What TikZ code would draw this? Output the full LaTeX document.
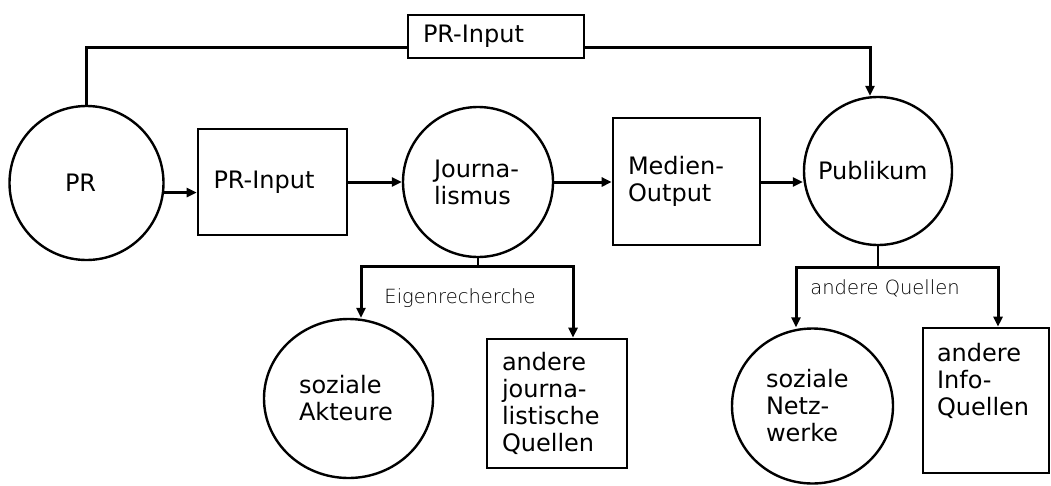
\documentclass[tikz,border=0pt]{standalone}
\usepackage{fontspec}
\setmainfont{DejaVu Sans}
\IfFontExistsTF{DejaVu Sans ExtraLight}
  {\newfontfamily\thinfont{DejaVu Sans ExtraLight}}
  {\newfontfamily\thinfont{DejaVu Sans}[Color=404040]}
\usetikzlibrary{arrows.meta,shapes.geometric}

\begin{document}
\begin{tikzpicture}[x=1pt,y=-1pt]
	\tikzstyle{actor}=[circle,draw=black,line width=2.4pt,align=left,inner sep=0pt,font=\fontsize{24pt}{27pt}\selectfont]
	\tikzstyle{medium}=[rectangle,draw=black,line width=2.6pt,align=left,inner sep=0pt,font=\fontsize{24pt}{27pt}\selectfont]
	\tikzstyle{source}=[font=\thinfont\fontsize{19.5pt}{23pt}\selectfont]
	\tikzstyle{flow}=[draw,line width=3pt,-{Triangle[length=10pt,width=9pt]}]
	\tikzstyle{fork}=[draw,line width=3pt,{Triangle[length=10pt,width=9pt]}-{Triangle[length=10pt,width=9pt]}]
	\tikzstyle{stem}=[draw,line width=2.2pt]
	\useasboundingbox (0,0) rectangle (1051,485);

	% main row
	\node [actor,minimum size=154pt,text width=43pt] (pr) at (86.5,183) {PR};
	\node [medium,minimum width=149pt,minimum height=106pt,text width=118pt] (prin) at (272.5,182) {PR-Input};
	\node [actor,minimum size=150pt,text width=88pt] (journ) at (478,182) {Journa-\\lismus\\[-6pt]};
	\node [medium,minimum width=147pt,minimum height=127pt,text width=117pt] (medien) at (686.5,181.5) {Medien-\\Output};
	\node [actor,minimum size=148pt,text width=120pt] (publ) at (878,171) {Publikum};

	% direct channel on top
	\node [medium,minimum width=176pt,minimum height=43pt,text width=146pt] (topin) at (496,36.5) {PR-Input};

	% sources below
	\node [actor,ellipse,minimum width=169pt,minimum height=159pt,text width=99pt] (akteure) at (348.5,398.5) {soziale\\Akteure};
	\node [medium,minimum width=140pt,minimum height=129pt,text width=110pt] (jquellen) at (557,403.5) {andere\\journa-\\listische\\Quellen};
	\node [actor,ellipse,minimum width=161pt,minimum height=155pt,text width=93pt] (netz) at (812.5,406) {soziale\\Netz-\\werke};
	\node [medium,minimum width=126pt,minimum height=145pt,text width=98pt] (iquellen) at (986,400.5) {andere\\Info-\\Quellen\\[8pt]\strut};

	\node [source] (eigen) at (460,298) {Eigenrecherche};
	\node [source] (andq) at (885,288) {andere Quellen};

	\coordinate (toprow) at (0,47);
	\coordinate (pubdrop) at (870,47);
	\coordinate (mainrow) at (0,182);
	\coordinate (jl) at (361,266);
	\coordinate (jr) at (573,266);
	\coordinate (pl) at (796,267);
	\coordinate (pright) at (998,267);

	\path[flow] (pr.-7) -- (pr.-7 -| prin.west);
	\path[flow] (prin.east) -- (journ.west |- mainrow);
	\path[flow] (journ.east |- mainrow) -- (medien.west |- mainrow);
	\path[flow] (medien.east |- mainrow) -- (publ.west |- mainrow);

	\path[draw,line width=3pt] (pr.north) -- (pr.north |- toprow) -- (topin.west |- toprow);
	\path[flow] (topin.east |- toprow) -- (pubdrop) -- (pubdrop |- publ.north);

	\path[stem] (journ.south) -- (journ.south |- jl);
	\path[fork] (jl |- akteure.north) -- (jl) -- (jr) -- (jr |- jquellen.north);
	\path[stem] (publ.south) -- (publ.south |- pl);
	\path[fork] (pl |- netz.north) -- (pl) -- (pright) -- (pright |- iquellen.north);
\end{tikzpicture}
\end{document}
